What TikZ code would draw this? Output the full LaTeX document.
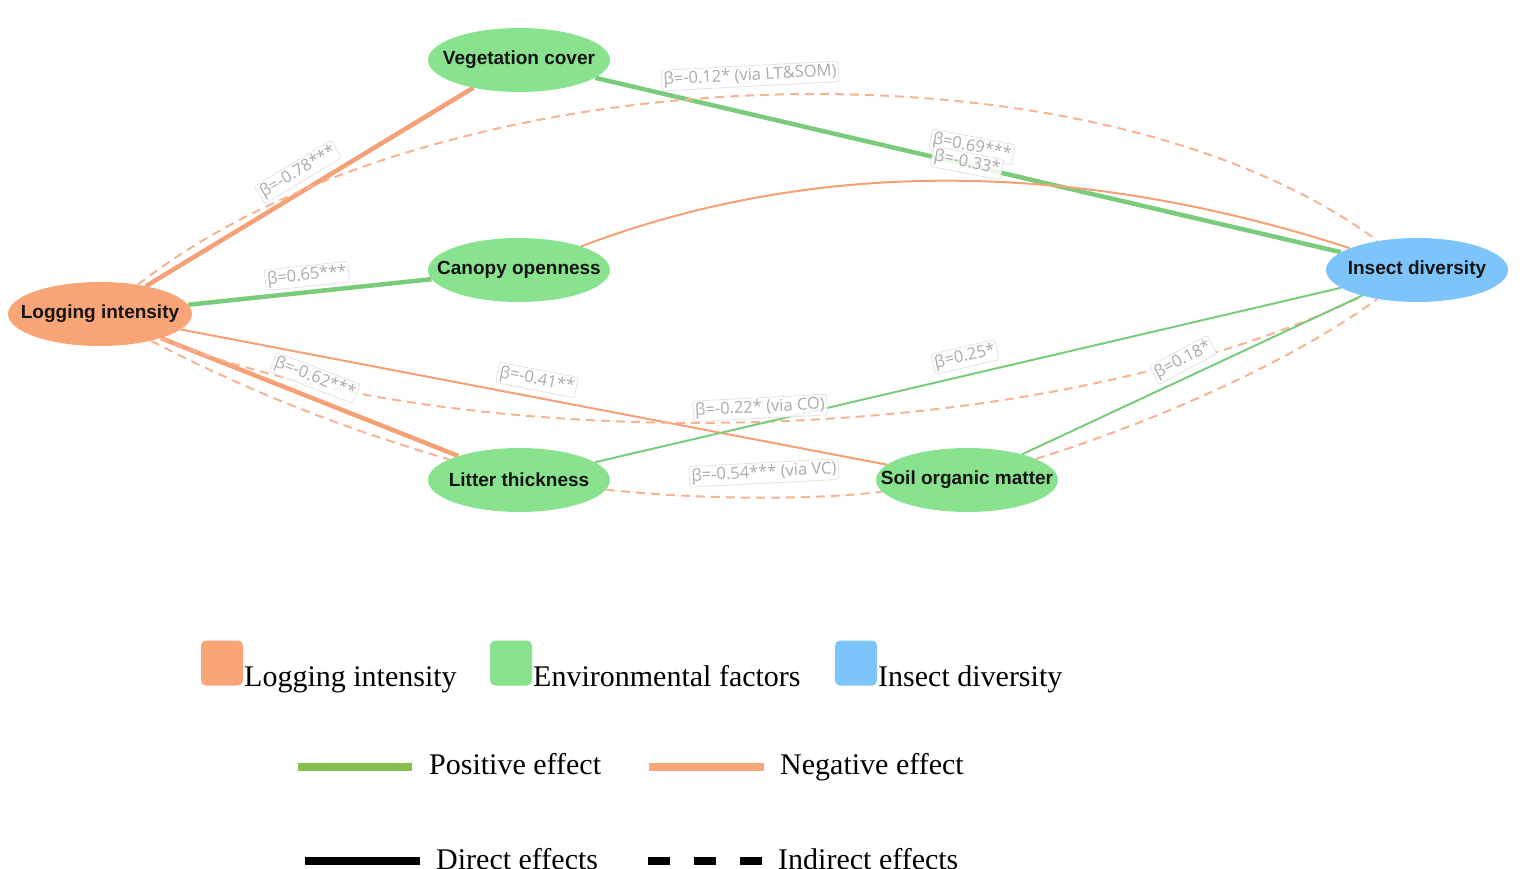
\documentclass[tikz,border=0pt]{standalone}
\usepackage{fontspec}
\setmainfont{Liberation Serif}
\newfontfamily\nodefont{Liberation Sans}
\newfontfamily\labfont{Open Sans}
\usetikzlibrary{shapes.geometric}
\pgfdeclarelayer{bg}
\pgfsetlayers{bg,main}
\definecolor{nodeorange}{RGB}{250,165,120}
\definecolor{nodegreen}{RGB}{137,227,142}
\definecolor{nodeblue}{RGB}{125,196,250}
\definecolor{edgeorange}{RGB}{246,160,118}
\definecolor{dashorange}{RGB}{248,178,148}
\definecolor{edgegreen}{RGB}{122,204,124}
\definecolor{leggreen}{RGB}{134,191,78}
\definecolor{legorange}{RGB}{249,167,122}
\newcommand{\ftxt}[1]{\makebox[0pt]{#1}}
\begin{document}
\begin{tikzpicture}[x=1pt,y=-1pt,
  factor/.style={ellipse, minimum width=182pt, minimum height=64pt, inner sep=0pt,
    font=\nodefont\bfseries\fontsize{19}{22}\selectfont, text=black!92},
  elab/.style={draw=black!11, line width=0.8pt, fill=white, fill opacity=0.85, text opacity=1,
    rounded corners=2pt, text=black!33, font=\labfont\fontsize{16.5}{18}\selectfont, inner sep=2pt},
  negthick/.style={draw=edgeorange, line width=4.5pt},
  negthin/.style={draw=edgeorange, line width=2pt},
  posthick/.style={draw=edgegreen, line width=4.5pt},
  posthin/.style={draw=edgegreen, line width=2pt},
  negdash/.style={draw=dashorange, line width=2pt, dash pattern=on 9pt off 6pt},
  legsq/.style={rectangle, rounded corners=5pt, minimum width=42pt, minimum height=45pt, inner sep=0pt},
  legtext/.style={anchor=base west, inner sep=0pt, font=\fontsize{30}{34}\selectfont, text=black},
  legline/.style={line width=7.5pt}
]
\path[use as bounding box] (0,0) rectangle (1535,869);

% factor nodes
\node[factor, fill=nodeorange, minimum width=184pt] (LI) at (100,314) {\ftxt{Logging intensity}};
\node[factor, fill=nodegreen] (VC) at (519,60) {\ftxt{Vegetation cover}};
\node[factor, fill=nodegreen] (CO) at (519,270) {\ftxt{Canopy openness}};
\node[factor, fill=nodeblue] (ID) at (1417,270) {\ftxt{Insect diversity}};
\node[factor, fill=nodegreen] (LT) at (519,480) {\ftxt{Litter thickness}};
\node[factor, fill=nodegreen] (SOM) at (967,480) {\ftxt{Soil organic matter}};

% connectors
\begin{pgfonlayer}{bg}
\draw[negthick] (LI) -- (VC);
\draw[posthick] (LI) -- (CO);
\draw[posthick] (VC) -- (ID);
\draw[negthin] (CO) .. controls (811,159) and (1072,158) .. (ID);
\draw[negdash] (LI) .. controls (440,50) and (1090,28) .. (ID);
\draw[negthick] (LI) -- (LT);
\draw[negdash] (LI) .. controls (249,392) and (346,429) .. (LT);
\draw[negthin] (LI) -- (SOM);
\draw[negdash] (LI) .. controls (450,455) and (1020,460) .. (ID);
\draw[posthin] (LT) -- (ID);
\draw[posthin] (SOM) -- (ID);
\draw[negdash] (SOM) .. controls (1130,430) and (1280,370) .. (ID);
\draw[negdash] (LT) .. controls (700,500) and (820,500) .. (SOM);
\end{pgfonlayer}

% edge labels
\node[elab, rotate=31] (l1) at (298,172) {β=-0.78***};
\node[elab, rotate=6] (l2) at (307,276) {β=0.65***};
\node[elab, rotate=3] (l3) at (750,76) {β=-0.12* (via LT\&SOM)};
\node[elab, rotate=-11] (l4) at (972,147) {β=0.69***};
\node[elab, rotate=-11] (l5) at (967,163) {β=-0.33*};
\node[elab, rotate=-21] (l6) at (315,378) {β=-0.62***};
\node[elab, rotate=-11] (l7) at (537,380) {β=-0.41**};
\node[elab, rotate=3] (l8) at (760,408) {β=-0.22* (via CO)};
\node[elab, rotate=13] (l9) at (965,357) {β=0.25*};
\node[elab, rotate=28] (l10) at (1183,360) {β=0.18*};
\node[elab, rotate=3] (l11) at (764,473) {β=-0.54*** (via VC)};

% legend: node types
\node[legsq, fill=nodeorange] (sq1) at (222,663) {};
\node[legtext] (t1) at (244,686) {Logging intensity};
\node[legsq, fill=nodegreen] (sq2) at (511,663) {};
\node[legtext] (t2) at (533,686) {Environmental factors};
\node[legsq, fill=nodeblue] (sq3) at (856,663) {};
\node[legtext] (t3) at (878,686) {Insect diversity};

% legend: effect sign
\coordinate (g1) at (298,767);
\coordinate (g2) at (412,767);
\draw[legline, leggreen] (g1) -- (g2);
\node[legtext] (t4) at (429,774) {Positive effect};
\coordinate (o1) at (649,767);
\coordinate (o2) at (764,767);
\draw[legline, legorange] (o1) -- (o2);
\node[legtext] (t5) at (780,774) {Negative effect};

% legend: effect type
\coordinate (d1) at (305,861);
\coordinate (d2) at (420,861);
\draw[legline, black] (d1) -- (d2);
\node[legtext] (t6) at (436,869) {Direct effects};
\coordinate (i1) at (648,861);
\coordinate (i2) at (762,861);
\draw[legline, black, dash pattern=on 22pt off 24pt] (i1) -- (i2);
\node[legtext] (t7) at (778,869) {Indirect effects};
\end{tikzpicture}
\end{document}
